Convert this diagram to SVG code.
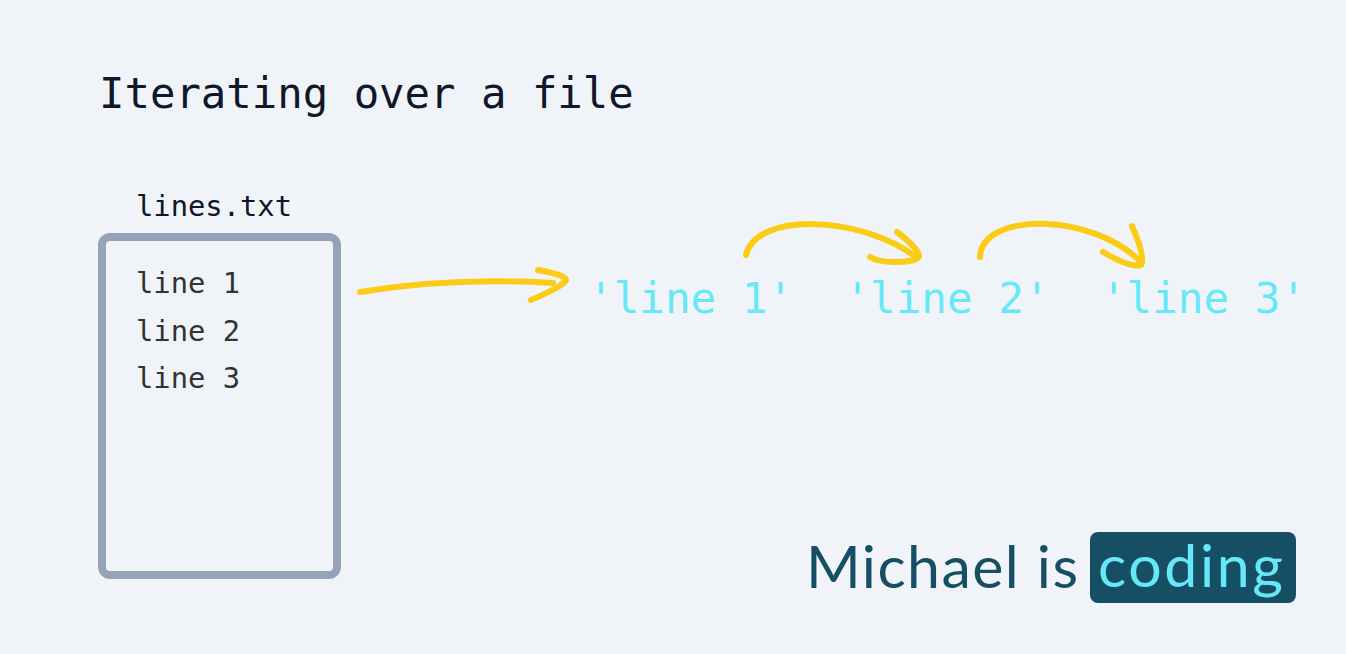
<svg xmlns="http://www.w3.org/2000/svg" width="1346" height="654" viewBox="0 0 1346 654">
<style>
.mono{font-family:"DejaVu Sans Mono","Liberation Mono",monospace}
.arrow{fill:none;stroke:#facc15;stroke-width:6;stroke-linecap:round;stroke-linejoin:round}
.brand{font-family:Lato,"Noto Sans",sans-serif;font-size:59px}
</style>
<rect width="1346" height="654" fill="#f0f4f9"/>
<text class="mono" x="99" y="108" font-size="42.3" fill="#0f172a">Iterating over a file</text>
<g id="file">
<text class="mono" x="136" y="216" font-size="28.8" fill="#0f172a">lines.txt</text>
<rect x="102" y="237" width="235" height="338" rx="8" fill="none" stroke="#94a3b8" stroke-width="8"/>
<text class="mono" font-size="28.8" fill="#333">
<tspan x="136" y="293">line 1</tspan>
<tspan x="136" y="341">line 2</tspan>
<tspan x="136" y="388">line 3</tspan>
</text>
</g>
<g id="items">
<text class="mono" x="588" y="313" font-size="42.6" fill="#67e8f9" xml:space="preserve">'line 1'  'line 2'  'line 3'</text>
</g>
<g id="connectors">
<path class="arrow" d="M360,292 Q450,277 553,283"/>
<path class="arrow" d="M538,270 Q562,274 566,279 Q568,284 531,300"/>
<path class="arrow" d="M746,255 C756,212 860,215 916,257"/>
<path class="arrow" d="M897,232 Q918,248 919,256 Q918,262 895,262 Q878,262 870,257"/>
<path class="arrow" d="M980,257 C982,212 1090,212 1140,261"/>
<path class="arrow" d="M1132,226 Q1146,258 1141,265 Q1130,268 1103,252"/>
</g>
<g id="brand">
<text class="brand" x="806" y="588" fill="#164e63" textLength="272" lengthAdjust="spacing">Michael is</text>
<rect x="1090" y="532" width="206" height="71" rx="8" fill="#164e63"/>
<text class="brand" x="1098" y="587" fill="#67e8f9" textLength="185" lengthAdjust="spacing">coding</text>
</g>
</svg>
